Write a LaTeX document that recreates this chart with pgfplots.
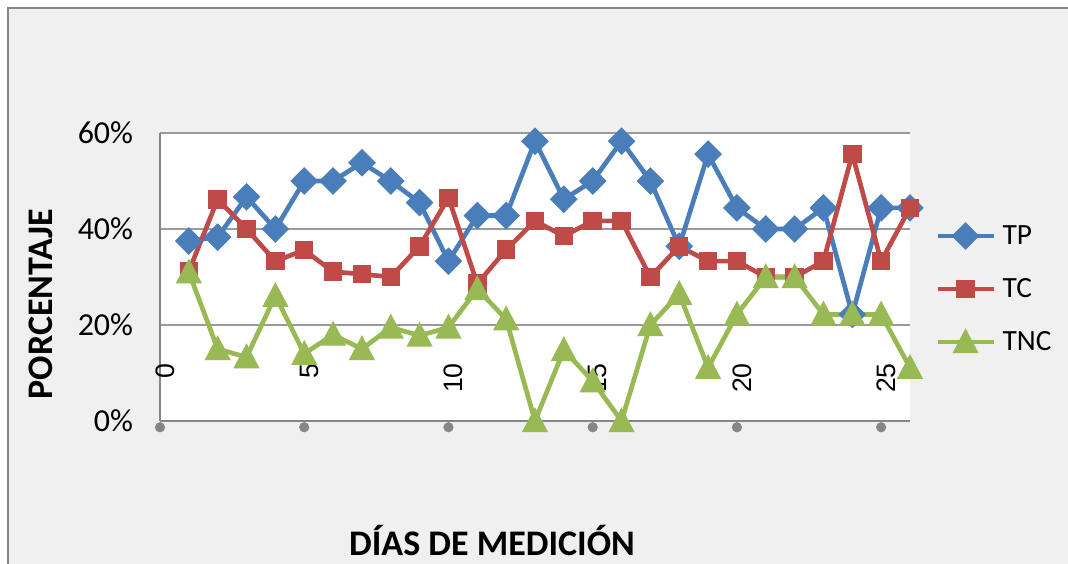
\documentclass[border=0pt]{standalone}
\usepackage{pgfplots}
\pgfplotsset{compat=1.18}
\usepackage{fontspec}
\setmainfont{Carlito}
\newfontfamily\arialfont{Liberation Sans}

\definecolor{tpblue}{HTML}{4A7EBB}
\definecolor{tcred}{HTML}{BE4B48}
\definecolor{tncgreen}{HTML}{98B954}
\definecolor{chartbg}{HTML}{F0F0F0}
\definecolor{gridgray}{HTML}{9A9A9A}
\definecolor{axisgray}{HTML}{868686}

\begin{document}
\begin{tikzpicture}
% chart area
\useasboundingbox (-120pt,-107.25pt) rectangle (681pt,315.75pt);
\fill[white] (-120pt,-107.25pt) rectangle (681pt,315.75pt);
\fill[chartbg] (-114pt,-108pt) rectangle (682pt,309.75pt);
\draw[axisgray, line width=1.1pt] (-114pt,-108pt) -- (-114pt,309.75pt) -- (682pt,309.75pt);

\begin{axis}[
  at={(0pt,0pt)}, anchor=south west,
  scale only axis, width=562.5pt, height=216pt,
  xmin=0, xmax=26, ymin=0, ymax=60,
  clip=false,
  axis background/.style={fill=white},
  axis lines*=left,
  axis line style={axisgray, line width=1.5pt},
  major tick length=0pt,
  ymajorgrids,
  grid style={gridgray, line width=1.2pt},
  ytick={0,20,40,60},
  yticklabels={0\%,20\%,40\%,60\%},
  yticklabel style={font=\fontsize{24}{24}\selectfont, inner sep=0pt, anchor=east, xshift=-20pt},
  xtick={0,5,10,15,20,25},
  xticklabels={0,5,10,15,20,25},
  xticklabel style={font=\arialfont\fontsize{20}{20}\selectfont, inner sep=0pt,
                    xshift=3.75pt, yshift=43.5pt, rotate=90, anchor=east},
  /pgf/number format/assume math mode=true,
  xlabel={DÍAS DE MEDICIÓN},
  ylabel={PORCENTAJE},
  xlabel style={font=\bfseries\fontsize{27}{27}\selectfont, at={(axis description cs:0.4427,-0.4653)}, anchor=base},
  ylabel style={font=\bfseries\fontsize{27}{27}\selectfont, at={(axis description cs:-0.14267,0.40625)}, anchor=base},
  legend style={at={(axis description cs:1.0333,0.4583)}, anchor=west,
                draw=none, fill=none, inner sep=0pt,
                font=\fontsize{22}{22}\selectfont,
                nodes={inner sep=0pt}, column sep=5pt, row sep=24pt},
  legend cell align=left,
  legend image code/.code={\draw[mark repeat=2,mark phase=2] plot coordinates {(0pt,0pt) (21pt,0pt) (42pt,0pt)};},
]

% tick dots along the horizontal axis
\addplot[only marks, mark=*, axisgray, mark size=3.6pt, forget plot]
  coordinates {(0,-1.3) (5,-1.3) (10,-1.3) (15,-1.3) (20,-1.3) (25,-1.3)};

\addplot[tpblue, line width=3.5pt, mark=square*, mark size=5.6pt, mark options={rotate=45, solid}]
  coordinates {
  (1,37.5) (2,38.3) (3,46.7) (4,40.0) (5,50.0) (6,50.0) (7,53.8) (8,50.0)
  (9,45.5) (10,33.3) (11,42.8) (12,42.8) (13,58.3) (14,46.2) (15,50.0) (16,58.3)
  (17,50.0) (18,36.4) (19,55.6) (20,44.4) (21,40.0) (22,40.0) (23,44.4) (24,22.2)
  (25,44.4) (26,44.4)};
\addlegendentry{TP}

\addplot[tcred, line width=3.5pt, mark=square*, mark size=5.2pt, mark options={solid}]
  coordinates {
  (1,31.2) (2,46.2) (3,40.0) (4,33.3) (5,35.6) (6,31.1) (7,30.6) (8,30.0)
  (9,36.4) (10,46.5) (11,28.6) (12,35.7) (13,41.7) (14,38.5) (15,41.7) (16,41.7)
  (17,30.0) (18,36.4) (19,33.3) (20,33.3) (21,30.0) (22,30.0) (23,33.3) (24,55.6)
  (25,33.3) (26,44.4)};
\addlegendentry{TC}

% triangles centred on their points
\addplot[tncgreen, line width=3.5pt, mark=triangle*, mark size=8pt, mark options={solid, yshift=-2.2pt, yscale=1.1}]
  coordinates {
  (1,31.0) (2,15.0) (3,13.3) (4,26.1) (5,14.0) (6,18.0) (7,15.0) (8,19.5)
  (9,17.8) (10,19.5) (11,27.5) (12,21.2) (13,0.0) (14,14.8) (15,8.3) (16,0.0)
  (17,20.0) (18,26.5) (19,11.1) (20,22.2) (21,30.0) (22,30.0) (23,22.2) (24,22.2)
  (25,22.2) (26,11.1)};
\addlegendentry{TNC}

\end{axis}
\end{tikzpicture}
\end{document}
